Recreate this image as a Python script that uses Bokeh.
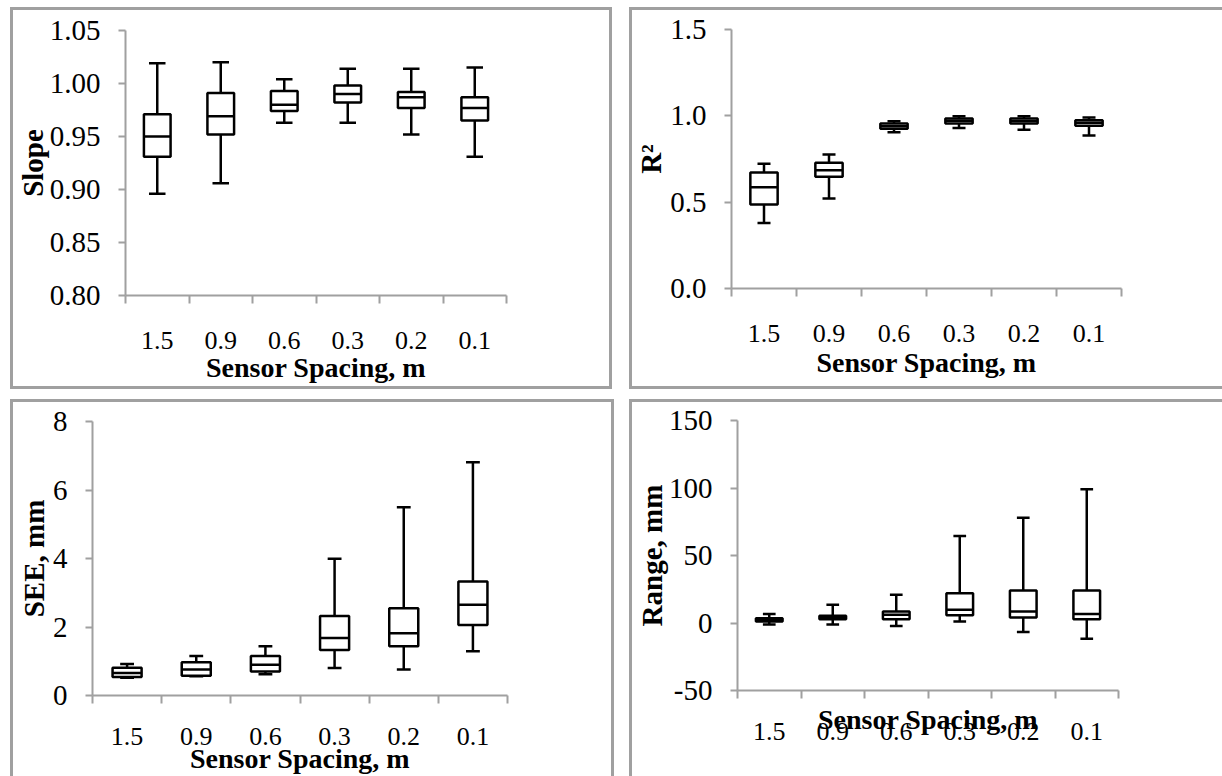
from bokeh.plotting import figure
from bokeh.models import Range1d, FixedTicker
from bokeh.layouts import row, column
from bokeh.embed import file_html
from bokeh.resources import INLINE

categories = ["1.5", "0.9", "0.6", "0.3", "0.2", "0.1"]

# Slope
slope_min = [0.896, 0.906, 0.963, 0.963, 0.952, 0.931]
slope_q1 = [0.931, 0.952, 0.974, 0.982, 0.977, 0.965]
slope_med = [0.950, 0.969, 0.980, 0.990, 0.987, 0.977]
slope_q3 = [0.971, 0.991, 0.993, 0.998, 0.992, 0.987]
slope_max = [1.019, 1.020, 1.004, 1.014, 1.014, 1.015]

# R squared
r2_min = [0.380, 0.521, 0.905, 0.930, 0.920, 0.886]
r2_q1 = [0.487, 0.647, 0.925, 0.955, 0.955, 0.943]
r2_med = [0.587, 0.685, 0.940, 0.971, 0.970, 0.960]
r2_q3 = [0.672, 0.728, 0.955, 0.985, 0.985, 0.975]
r2_max = [0.722, 0.776, 0.969, 0.998, 0.998, 0.990]

# SEE, mm
see_min = [0.52, 0.56, 0.62, 0.80, 0.76, 1.29]
see_q1 = [0.54, 0.58, 0.70, 1.33, 1.44, 2.06]
see_med = [0.66, 0.76, 0.90, 1.68, 1.82, 2.65]
see_q3 = [0.81, 0.97, 1.15, 2.32, 2.55, 3.33]
see_max = [0.92, 1.15, 1.44, 3.99, 5.50, 6.81]

# Range, mm
rng_min = [-1.2, -1.2, -2.2, 1.2, -6.7, -11.6]
rng_q1 = [1.2, 2.7, 2.7, 5.7, 4.0, 2.7]
rng_med = [2.5, 4.0, 6.2, 9.9, 8.6, 6.7]
rng_q3 = [3.5, 5.4, 8.6, 22.0, 24.0, 24.0]
rng_max = [6.7, 13.6, 21.0, 64.4, 78.0, 99.0]

FONT = "Liberation Serif"
GREY = "#a0a0a0"
XTITLE = "Sensor Spacing, m"


def panel(vmin, q1, med, q3, vmax, y0, y1, yticks, ylabels, ylabel,
          width, height, mb, borders, margin, xstand, xlabstand, ylabstand,
          cap=0.2):
    p = figure(width=width, height=height, output_backend="svg",
               toolbar_location=None, x_range=Range1d(0, 6),
               y_range=Range1d(y0, y1),
               min_border_left=mb[0], min_border_top=mb[1],
               min_border_right=mb[2], min_border_bottom=mb[3])
    p.outline_line_color = None
    p.grid.visible = False
    p.background_fill_color = "white"
    p.border_fill_color = "white"
    xs = [i + 0.5 for i in range(len(categories))]
    bw = 0.42
    lw = 2.5
    p.segment(x0=xs, y0=q3, x1=xs, y1=vmax, line_color="black", line_width=lw)
    p.segment(x0=xs, y0=q1, x1=xs, y1=vmin, line_color="black", line_width=lw)
    p.segment(x0=[x - cap / 2 for x in xs], y0=vmax, x1=[x + cap / 2 for x in xs],
              y1=vmax, line_color="black", line_width=lw)
    p.segment(x0=[x - cap / 2 for x in xs], y0=vmin, x1=[x + cap / 2 for x in xs],
              y1=vmin, line_color="black", line_width=lw)
    p.vbar(x=xs, width=bw, bottom=q1, top=q3, fill_color="white",
           line_color="black", line_width=lw)
    p.segment(x0=[x - bw / 2 for x in xs], y0=med, x1=[x + bw / 2 for x in xs],
              y1=med, line_color="black", line_width=lw)

    xa = p.xaxis[0]
    xa.ticker = FixedTicker(ticks=xs, minor_ticks=list(range(7)))
    xa.major_label_overrides = {x: c for x, c in zip(xs, categories)}
    xa.major_tick_out = 0
    xa.major_tick_in = 0
    xa.minor_tick_out = 8
    xa.minor_tick_in = 0
    xa.minor_tick_line_color = GREY
    xa.minor_tick_line_width = 2
    xa.axis_line_color = GREY
    xa.axis_line_width = 2
    xa.major_label_text_font = FONT
    xa.major_label_text_font_size = "26px"
    xa.major_label_text_color = "black"
    xa.major_label_standoff = xstand
    xa.axis_label = XTITLE
    xa.axis_label_text_font = FONT
    xa.axis_label_text_font_style = "bold"
    xa.axis_label_text_font_size = "28px"
    xa.axis_label_text_color = "black"
    xa.axis_label_text_line_height = 0.8
    xa.axis_label_standoff = xlabstand

    ya = p.yaxis[0]
    ya.ticker = FixedTicker(ticks=yticks, minor_ticks=[])
    ya.major_label_overrides = {t: l for t, l in zip(yticks, ylabels)}
    ya.major_tick_out = 7
    ya.major_tick_in = 0
    ya.major_tick_line_color = GREY
    ya.major_tick_line_width = 2
    ya.axis_line_color = GREY
    ya.axis_line_width = 2
    ya.major_label_text_font = FONT
    ya.major_label_text_font_size = "29px"
    ya.major_label_text_color = "black"
    ya.major_label_standoff = 18
    ya.axis_label = ylabel
    ya.axis_label_text_font = FONT
    ya.axis_label_text_font_style = "bold"
    ya.axis_label_text_font_size = "29px"
    ya.axis_label_text_color = "black"
    ya.axis_label_standoff = ylabstand

    st = {}
    for side in borders:
        st["border-" + side] = "3px solid " + GREY
    box = column(p, styles=st)
    box.margin = margin
    return box


b1 = panel(slope_min, slope_q1, slope_med, slope_q3, slope_max, 0.80, 1.05,
           [0.80, 0.85, 0.90, 0.95, 1.00, 1.05],
           ["0.80", "0.85", "0.90", "0.95", "1.00", "1.05"], "Slope",
           596, 376, (107, 20, 103, 91), ["left", "top", "right", "bottom"],
           (7, 0, 0, 10), 28, 0, -2, cap=0.26)
b2 = panel(r2_min, r2_q1, r2_med, r2_q3, r2_max, 0.0, 1.5,
           [0.0, 0.5, 1.0, 1.5], ["0.0", "0.5", "1.0", "1.5"], "R²",
           590, 376, (89, 19, 101, 98), ["left", "top", "bottom"],
           (7, 0, 0, 17), 28, 2, 0)
b3 = panel(see_min, see_q1, see_med, see_q3, see_max, 0, 8,
           [0, 2, 4, 6, 8], ["0", "2", "4", "6", "8"], "SEE, mm",
           598, 374, (79, 19, 104, 81), ["left", "top", "right"],
           (10, 0, 0, 10), 24, -5, 0)
b4 = panel(rng_min, rng_q1, rng_med, rng_q3, rng_max, -50, 150,
           [-50, 0, 50, 100, 150], ["-50", "0", "50", "100", "150"], "Range, mm",
           590, 374, (91, 18, 104, 86), ["left", "top"],
           (10, 0, 0, 15), 24, -39, -2)

layout = column(row(b1, b2), row(b3, b4))
open("out.html", "w").write(file_html(layout, INLINE))
